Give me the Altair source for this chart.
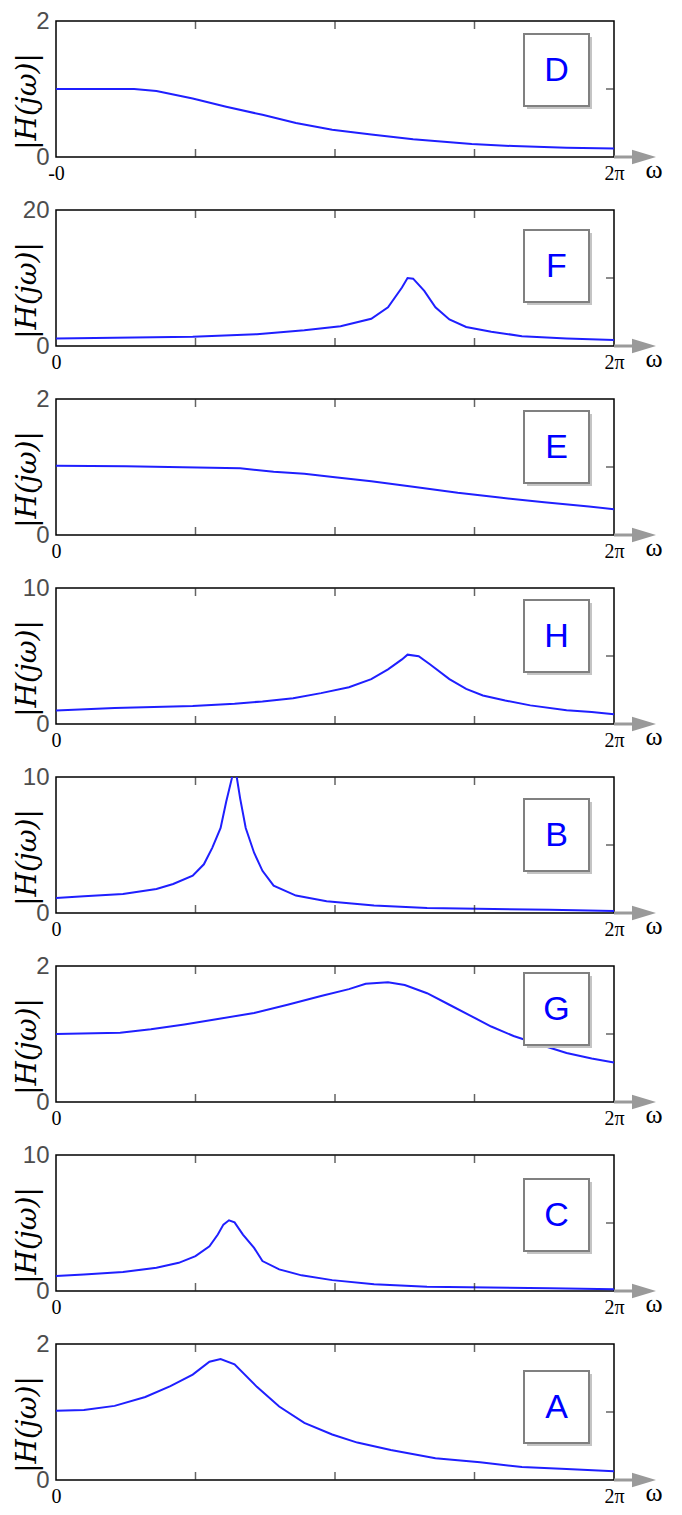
import altair as alt
import pandas as pd

# ---------------- data (omega in units of pi, 0..2 = 0..2pi) ----------------
LABELS = ["D", "F", "E", "H", "B", "G", "C", "A"]
YMAX = [2, 20, 2, 10, 10, 2, 10, 2]
YMID = [1, 10, 1, 5, 5, 1, 5, 1]
XZERO = ["-0", "0", "0", "0", "0", "0", "0", "0"]

D_w = [0, 0.28, 0.36, 0.49, 0.61, 0.74, 0.86, 0.99, 1.13, 1.28, 1.49, 1.64, 1.83, 2.0]
D_h = [1.0, 1.0, 0.97, 0.86, 0.74, 0.62, 0.50, 0.40, 0.33, 0.26, 0.19, 0.16, 0.135, 0.125]

F_w = [0, 0.49, 0.72, 0.89, 1.02, 1.13, 1.19, 1.24, 1.26, 1.28, 1.32, 1.36, 1.41, 1.47, 1.56, 1.67, 1.83, 2.0]
F_h = [1.1, 1.36, 1.74, 2.3, 2.9, 4.0, 5.7, 8.6, 10.0, 9.9, 8.1, 5.7, 3.9, 2.8, 2.1, 1.45, 1.1, 0.87]

E_w = [0, 0.25, 0.66, 0.78, 0.89, 1.0, 1.13, 1.28, 1.44, 1.59, 1.75, 1.91, 2.0]
E_h = [1.02, 1.01, 0.98, 0.93, 0.90, 0.85, 0.79, 0.71, 0.62, 0.55, 0.48, 0.42, 0.38]

H_w = [0, 0.21, 0.49, 0.64, 0.74, 0.85, 0.95, 1.05, 1.13, 1.19, 1.24, 1.26, 1.30, 1.34, 1.41, 1.47, 1.53, 1.61, 1.70, 1.83, 1.92, 2.0]
H_h = [1.0, 1.18, 1.33, 1.49, 1.66, 1.90, 2.27, 2.70, 3.30, 4.02, 4.75, 5.1, 4.99, 4.39, 3.30, 2.58, 2.10, 1.73, 1.37, 1.01, 0.89, 0.72]

B_w = [0, 0.10, 0.24, 0.36, 0.42, 0.49, 0.53, 0.56, 0.59, 0.61, 0.63, 0.64, 0.66, 0.68, 0.71, 0.74, 0.78, 0.86, 0.97, 1.14, 1.33, 1.77, 2.0]
B_h = [1.11, 1.23, 1.40, 1.77, 2.13, 2.74, 3.58, 4.79, 6.25, 8.18, 9.88, 11.0, 8.43, 6.25, 4.43, 3.10, 2.01, 1.28, 0.87, 0.56, 0.36, 0.24, 0.15]

G_w = [0, 0.23, 0.34, 0.46, 0.58, 0.71, 0.83, 0.95, 1.05, 1.11, 1.19, 1.25, 1.33, 1.41, 1.49, 1.56, 1.64, 1.73, 1.83, 1.92, 2.0]
G_h = [1.0, 1.02, 1.07, 1.14, 1.22, 1.31, 1.43, 1.56, 1.66, 1.74, 1.76, 1.72, 1.60, 1.43, 1.26, 1.11, 0.97, 0.85, 0.72, 0.64, 0.58]

C_w = [0, 0.10, 0.24, 0.36, 0.44, 0.50, 0.55, 0.58, 0.60, 0.62, 0.64, 0.67, 0.71, 0.74, 0.80, 0.88, 0.99, 1.14, 1.33, 1.77, 2.0]
C_h = [1.10, 1.22, 1.39, 1.71, 2.07, 2.56, 3.29, 4.15, 4.88, 5.2, 5.05, 4.15, 3.17, 2.20, 1.59, 1.15, 0.80, 0.49, 0.32, 0.20, 0.12]

A_w = [0, 0.10, 0.21, 0.32, 0.41, 0.49, 0.55, 0.59, 0.64, 0.72, 0.80, 0.89, 0.99, 1.08, 1.20, 1.36, 1.52, 1.67, 1.83, 2.0]
A_h = [1.02, 1.03, 1.09, 1.22, 1.38, 1.55, 1.74, 1.78, 1.70, 1.37, 1.08, 0.84, 0.67, 0.55, 0.44, 0.32, 0.26, 0.19, 0.16, 0.13]

SERIES = [(D_w, D_h), (F_w, F_h), (E_w, E_h), (H_w, H_h),
          (B_w, B_h), (G_w, G_h), (C_w, C_h), (A_w, A_h)]
TICK_W = [0.5, 1.0, 1.5]

# ---------------- layout / style ----------------
W, H = 558, 136
BOX_TOP = [13, 20, 12, 12, 22, 7, 24, 27]
BOX_X, BOX_W, BOX_H = 468, 65, 72
LINE_COLOR = "#1f1fff"
ARROW = "#9a9a9a"


def panel(i):
    w, h = SERIES[i]
    df = pd.DataFrame({"w": w, "h": h})
    ymax = YMAX[i]
    xs = alt.Scale(domain=[0, 2], nice=False, zero=False)
    ys = alt.Scale(domain=[0, ymax], nice=False)

    line = alt.Chart(df).mark_line(color=LINE_COLOR, strokeWidth=2, clip=True).encode(
        x=alt.X("w:Q", scale=xs, axis=alt.Axis(
            values=[0, 2], labelExpr=f"datum.value == 0 ? '{XZERO[i]}' : '2π'",
            title=None, grid=False, ticks=False, domain=False,
            labelFont="Liberation Serif", labelFontSize=20, labelColor="black",
            labelPadding=6, labelFlush=False)),
        y=alt.Y("h:Q", scale=ys, axis=alt.Axis(
            values=[0, ymax], format="d", title="|H(jω)|", grid=False, ticks=False,
            domain=False, labelFont="Liberation Sans", labelFontSize=24,
            labelColor="#4d4d4d", labelPadding=7, titleFont="DejaVu Serif",
            titleFontStyle="italic", titleFontWeight="normal", titleFontSize=28,
            titleColor="black", titleX=-29, titleY=80, titleAngle=270,
            titleAlign="center", titleBaseline="middle")),
    )

    tdf = pd.DataFrame({"w": TICK_W})
    bot = alt.Chart(tdf).mark_tick(orient="vertical", size=8, thickness=1.5, color="#222").encode(
        x=alt.X("w:Q", scale=xs), y=alt.value(H - 4))
    top = alt.Chart(tdf).mark_tick(orient="vertical", size=8, thickness=1.5, color="#222").encode(
        x=alt.X("w:Q", scale=xs), y=alt.value(4))
    mdf = pd.DataFrame({"m": [YMID[i]]})
    right = alt.Chart(mdf).mark_tick(orient="horizontal", size=8, thickness=1.5, color="#222").encode(
        y=alt.Y("m:Q", scale=ys), x=alt.value(W - 4))

    one = pd.DataFrame({"label": [LABELS[i]]})
    bt = BOX_TOP[i]
    shadow = alt.Chart(one).mark_rect(fill="#c4c4c4").encode(
        x=alt.value(BOX_X + 3), x2=alt.value(BOX_X + BOX_W + 3),
        y=alt.value(bt + 3), y2=alt.value(bt + BOX_H + 3))
    box = alt.Chart(one).mark_rect(fill="white", stroke="#808080", strokeWidth=2).encode(
        x=alt.value(BOX_X), x2=alt.value(BOX_X + BOX_W),
        y=alt.value(bt), y2=alt.value(bt + BOX_H))
    letter = alt.Chart(one).mark_text(font="Liberation Sans", fontSize=34, color="#0000ff",
                                      baseline="middle", align="center").encode(
        x=alt.value(BOX_X + BOX_W / 2), y=alt.value(bt + BOX_H / 2 + 1), text="label:N")

    arrow_line = alt.Chart(one).mark_rule(color=ARROW, strokeWidth=3).encode(
        x=alt.value(W), x2=alt.value(W + 22), y=alt.value(H))
    arrow_head = alt.Chart(one).mark_point(shape="M -1 -0.6 L 1 0 L -1 0.6 Z", size=576,
                                           filled=True, color=ARROW, opacity=1).encode(
        x=alt.value(W + 30), y=alt.value(H))
    omega = alt.Chart(one).mark_text(font="Liberation Serif", fontSize=26, color="black",
                                     baseline="middle", align="center").encode(
        x=alt.value(W + 40), y=alt.value(H + 13), text=alt.value("ω"))

    return alt.layer(line, bot, top, right, shadow, box, letter,
                     arrow_line, arrow_head, omega).properties(width=W, height=H)


chart = alt.vconcat(*[panel(i) for i in range(8)], spacing=53, bounds="flush").properties(
    padding={"left": 4, "top": 0, "right": 0, "bottom": 0}
).configure_view(stroke="black", strokeWidth=1.5)

chart.save("out.html", embed_options={"renderer": "svg", "actions": False})
